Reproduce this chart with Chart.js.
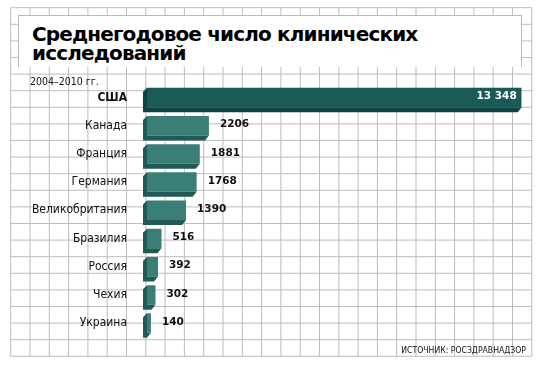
<!DOCTYPE html>
<html lang="ru">
<head>
<meta charset="utf-8">
<script src="https://cdn.jsdelivr.net/npm/chart.js@4/dist/chart.umd.min.js"></script>
<style>
  html, body { margin: 0; padding: 0; background: #fff; }
  #wrap { position: relative; width: 540px; height: 366px; overflow: hidden; }
  #c { position: absolute; left: 0; top: 0; }
  #title {
    position: absolute; left: 18px; top: 15px; width: 504px; height: 52px;
    box-sizing: border-box; background: #fff;
    border: 1px solid #b9b9b9; border-bottom: none;
    padding: 9px 0 0 13px;
    font: bold 20px/19px "DejaVu Sans", sans-serif; letter-spacing: -0.85px; color: #000;
  }
  #period {
    position: absolute; left: 30px; top: 75px;
    font: 10.5px "DejaVu Sans Condensed", sans-serif; color: #111;
  }
  #source {
    position: absolute; right: 14px; top: 345px;
    font: 8.6px "DejaVu Sans Condensed", sans-serif; color: #111;
  }
</style>
</head>
<body>
<div id="wrap">
  <canvas id="c" width="540" height="366"></canvas>
  <div id="title">Среднегодовое число клинических<br>исследований</div>
  <div id="period">2004–2010 гг.</div>
  <div id="source">ИСТОЧНИК: РОСЗДРАВНАДЗОР</div>
</div>
<script>
// data
const countries = ['США', 'Канада', 'Франция', 'Германия', 'Великобритания', 'Бразилия', 'Россия', 'Чехия', 'Украина'];
const trials = [13348, 2206, 1881, 1768, 1390, 516, 392, 302, 140];

const labelFont = '"DejaVu Sans Condensed", sans-serif';

function fmt(v) {
  // 13 348, but 2206
  return v >= 10000 ? String(v).replace(/\B(?=(\d{3})+(?!\d))/g, ' ') : String(v);
}

// squared paper behind everything
const paper = {
  id: 'paper',
  beforeDraw(chart) {
    const ctx = chart.ctx;
    const x0 = 10.7, y0 = 7.7, dx = 19.3, dy = 16.6, cols = 27, rows = 21;
    ctx.save();
    ctx.fillStyle = '#fff';
    ctx.fillRect(0, 0, chart.width, chart.height);
    ctx.strokeStyle = '#bdbdbd';
    ctx.lineWidth = 1;
    ctx.beginPath();
    for (let i = 0; i <= cols; i++) {
      ctx.moveTo(x0 + i * dx, y0);
      ctx.lineTo(x0 + i * dx, y0 + rows * dy);
    }
    for (let j = 0; j <= rows; j++) {
      ctx.moveTo(x0, y0 + j * dy);
      ctx.lineTo(x0 + cols * dx, y0 + j * dy);
    }
    ctx.stroke();
    ctx.restore();
  }
};

// dark left + bottom faces, then the numbers
const extrude = {
  id: 'extrude',
  afterDatasetsDraw(chart) {
    const ctx = chart.ctx;
    const meta = chart.getDatasetMeta(0);
    ctx.save();
    meta.data.forEach((bar, i) => {
      const p = bar.getProps(['x', 'y', 'base', 'height'], true);
      const top = p.y - p.height / 2, bottom = p.y + p.height / 2;
      ctx.fillStyle = i === 0 ? '#0f4442' : '#1f5a56';
      ctx.beginPath();
      ctx.moveTo(p.base, top);
      ctx.lineTo(p.base, bottom);
      ctx.lineTo(p.x, bottom);
      ctx.lineTo(p.x - 4, bottom + 5);
      ctx.lineTo(p.base - 4, bottom + 5);
      ctx.lineTo(p.base - 4, top + 4);
      ctx.closePath();
      ctx.fill();

      ctx.font = 'bold 10.5px "DejaVu Sans", sans-serif';
      ctx.textBaseline = 'middle';
      if (i === 0) {
        ctx.fillStyle = '#fff';
        ctx.textAlign = 'right';
        ctx.fillText(fmt(trials[i]), p.x - 5, p.y - 1);
      } else {
        ctx.fillStyle = '#111';
        ctx.textAlign = 'left';
        ctx.fillText(fmt(trials[i]), p.x + 11, p.y - 1);
      }
    });
    ctx.restore();
  }
};

new Chart(document.getElementById('c'), {
  type: 'bar',
  data: {
    labels: countries,
    datasets: [{
      data: trials,
      backgroundColor: trials.map((v, i) => i === 0 ? '#1a5a57' : '#3a7e78'),
      borderWidth: 0,
      barPercentage: 0.69,
      categoryPercentage: 1
    }]
  },
  options: {
    indexAxis: 'y',
    responsive: false,
    animation: false,
    devicePixelRatio: 1,
    layout: { padding: { left: 0, right: 18.3, top: 83.4, bottom: 28.8 } },
    scales: {
      x: { display: false, min: 0, max: 13348 },
      y: {
        grid: { display: false, drawTicks: false },
        border: { display: false },
        afterFit(scale) { scale.width = 147; },
        ticks: {
          padding: 20,
          color: '#111',
          font: ctx => ({ family: labelFont, size: 12, weight: ctx.index === 0 ? 'bold' : 'normal' })
        }
      }
    },
    plugins: { legend: { display: false }, tooltip: { enabled: false } }
  },
  plugins: [paper, extrude]
});
</script>
</body>
</html>
